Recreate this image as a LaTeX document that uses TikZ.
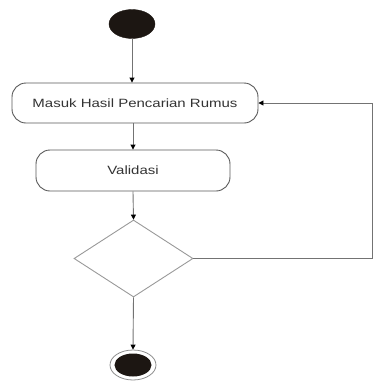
\documentclass[tikz,border=0pt]{standalone}
\usepackage{fontspec}
\setmainfont{Liberation Sans}
\usetikzlibrary{shapes.geometric,arrows.meta}
\definecolor{nodefill}{HTML}{1C1612}
\begin{document}
\begin{tikzpicture}[x=1bp,y=-1bp,
  flow/.style={draw=black!55, line width=0.9bp,
    -{Triangle[length=5bp,width=5bp,color=black]}},
  action/.style={draw=black!65, line width=0.9bp, rounded corners=14bp,
    inner sep=0pt, text=black!80,
    font=\fontsize{12bp}{14bp}\selectfont},
  initial/.style={ellipse, fill=nodefill, draw=nodefill, inner sep=0pt,
    minimum width=46bp, minimum height=29bp},
  finalring/.style={ellipse, draw=black!45, line width=0.8bp, inner sep=0pt,
    minimum width=46bp, minimum height=30bp},
  finaldot/.style={ellipse, fill=nodefill, inner sep=0pt,
    minimum width=37bp, minimum height=23bp},
  decision/.style={diamond, draw=black!40, line width=0.9bp, inner sep=0pt,
    minimum width=119bp, minimum height=77bp}]
\useasboundingbox (0,0) rectangle (373,383);

% nodes of the activity
\node[initial] (start) at (132,24) {};
\node[action, minimum width=246bp, minimum height=40bp] (a1) at (135,103)
  {\scalebox{1.25}[1]{Masuk Hasil Pencarian Rumus}};
\node[action, minimum width=194bp, minimum height=41bp] (a2) at (133,170.5)
  {\scalebox{1.25}[1]{Validasi}};
\node[decision] (dec) at (133.5,258.5) {};
\node[finalring] (endring) at (133,365) {};
\node[finaldot] (enddot) at (133,365) {};
\coordinate (back) at (372,0);

% control flow
\draw[flow] (start.south) -- (start.south |- a1.north);
\draw[flow] (a2.north |- a1.south) -- (a2.north);
\draw[flow] (a2.south) -- (dec.north);
\draw[flow] (dec.south) -- (endring.north);
\draw[flow] (dec.east) -- (dec.east -| back) -- (a1.east -| back) -- (a1.east);
\end{tikzpicture}
\end{document}
